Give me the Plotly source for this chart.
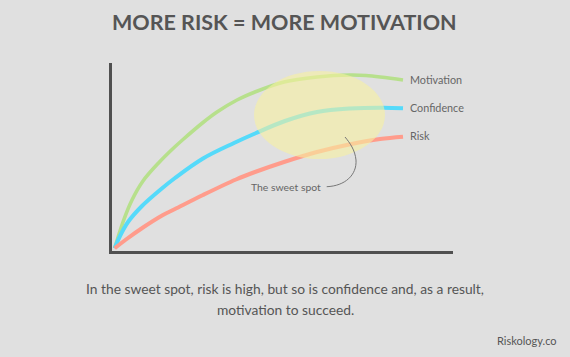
import plotly.graph_objects as go

W, H = 570, 357

# Data (x = effort, y = level; arbitrary units)
x_motivation = [2.7, 11, 20, 31, 47, 60, 71, 91, 105, 125, 143, 172, 205, 238, 254, 291]
y_motivation = [2.7, 29, 51, 70, 88.5, 101.5, 111.5, 128.5, 139, 151, 159, 169, 174, 176, 175.5, 171]

x_confidence = [2.7, 8, 16, 30, 48, 63, 91, 122, 143, 173, 205, 238, 271, 291]
y_confidence = [2.7, 15, 29, 45, 61, 73, 92.5, 108, 117.5, 130, 139, 142.5, 143.3, 142.7]

x_risk = [2.7, 14, 31, 51, 63, 91, 124, 143, 172, 203, 237, 268, 291]
y_risk = [2.7, 11.5, 23.5, 36, 42, 56, 71.5, 79, 89, 98.5, 106.5, 112, 114.3]

series_names = ["Motivation", "Confidence", "Risk"]
series_colors = ["#B7E08C", "#55DAFA", "#FF9C8C"]

# sweet spot ellipse extent (data units)
sweet_x = [142, 273]
sweet_y = [92, 180]

X_RANGE = [0, 341]
Y_RANGE = [0, 188]

BG = "#E0E0E0"
TEXT = "#555555"
FONT = "Lato"

fig = go.Figure()
for xs, ys, name, col, w in [
    (x_motivation, y_motivation, series_names[0], series_colors[0], 3.6),
    (x_confidence, y_confidence, series_names[1], series_colors[1], 4),
    (x_risk, y_risk, series_names[2], series_colors[2], 4),
]:
    fig.add_trace(go.Scatter(x=xs, y=ys, mode="lines", name=name,
                             line=dict(color=col, width=w, shape="spline", smoothing=1.0),
                             hoverinfo="skip"))
    fig.add_annotation(x=xs[-1] + 5.3, y=ys[-1] + 1, text=name, showarrow=False,
                       xanchor="left", yanchor="middle", xref="x", yref="y",
                       font=dict(family=FONT, size=10.8, color="#666666"))

# sweet spot ellipse
fig.add_shape(type="circle", xref="x", yref="y",
              x0=sweet_x[0], x1=sweet_x[1], y0=sweet_y[0], y1=sweet_y[1],
              fillcolor="rgb(246,240,160)", opacity=0.6, line=dict(width=0),
              layer="above")
# connector
fig.add_shape(type="path", xref="x", yref="y",
              path="M 214.7,64.3 C 233,65 245,76 244,91 C 243,101 238,108 233,114",
              line=dict(color="#777777", width=1), layer="above")
fig.add_annotation(x=211, y=64.3, text="The sweet spot", showarrow=False,
                   xanchor="right", yanchor="middle", xref="x", yref="y",
                   font=dict(family=FONT, size=10.4, color="#666666"))

# title, caption, source
fig.add_annotation(x=284.5 / W, y=1 - 22 / H, xref="paper", yref="paper",
                   text="<b>MORE RISK = MORE MOTIVATION</b>", showarrow=False,
                   xanchor="center", yanchor="middle",
                   font=dict(family=FONT, size=21.5, color=TEXT))
fig.add_annotation(x=285 / W, y=1 - 288 / H, xref="paper", yref="paper",
                   text="In the sweet spot, risk is high, but so is confidence and, as a result,",
                   showarrow=False, xanchor="center", yanchor="middle",
                   font=dict(family=FONT, size=13.8, color=TEXT))
fig.add_annotation(x=285 / W, y=1 - 309 / H, xref="paper", yref="paper",
                   text="motivation to succeed.",
                   showarrow=False, xanchor="center", yanchor="middle",
                   font=dict(family=FONT, size=13.8, color=TEXT))
fig.add_annotation(x=559 / W, y=1 - 340 / H, xref="paper", yref="paper",
                   text="Riskology.co", showarrow=False, xanchor="right", yanchor="middle",
                   font=dict(family=FONT, size=11, color=TEXT))

fig.update_layout(
    width=W, height=H, margin=dict(l=0, r=0, t=0, b=0),
    paper_bgcolor=BG, plot_bgcolor=BG, showlegend=False,
    xaxis=dict(domain=[112 / W, 453 / W], range=X_RANGE, showgrid=False, zeroline=False,
               showticklabels=False, ticks="", showline=True, linecolor="#505050", linewidth=3),
    yaxis=dict(domain=[(H - 251) / H, (H - 63) / H], range=Y_RANGE, showgrid=False,
               zeroline=False, showticklabels=False, ticks="", showline=True,
               linecolor="#505050", linewidth=3),
)

fig.write_html("out.html", config={"displayModeBar": False},
               post_script="document.body.style.margin='0';document.body.style.background='#E0E0E0';")
